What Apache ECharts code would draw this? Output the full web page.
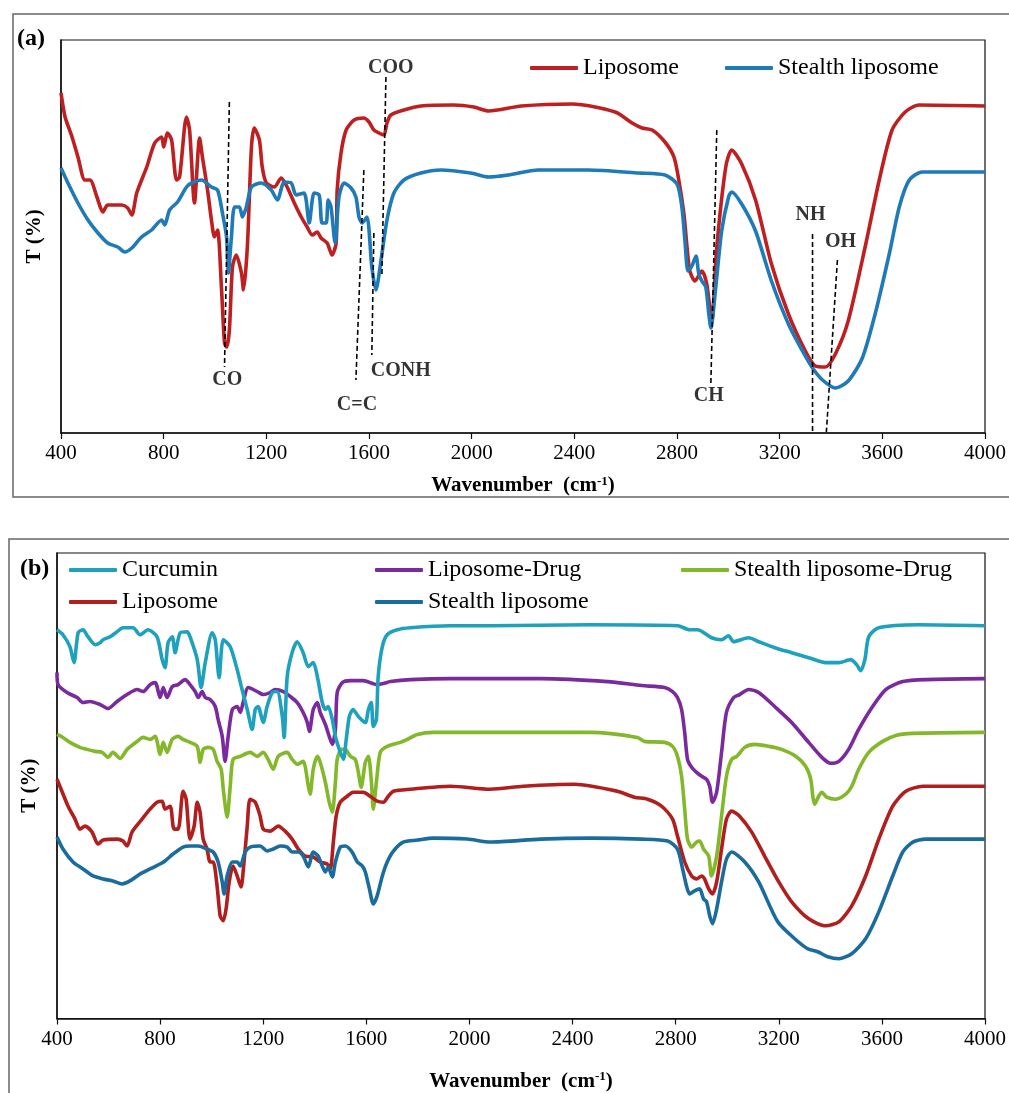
<!DOCTYPE html>
<html><head><meta charset="utf-8">
<script src="https://cdn.jsdelivr.net/npm/echarts@6/dist/echarts.min.js"></script>
<style>html,body{margin:0;padding:0;background:#fff}#chart{width:1009px;height:1093px}</style>
</head><body><div id="chart"></div>
<script>
// ---------------- DATA (wavenumber cm-1, transmittance in arbitrary units) ----------------
const xTicks = {min: 400, max: 4000, step: 400};

// Panel (a)
const a_liposome = [[400,340],[416,316],[443,296],[466,276],[493,253],[513,253],[540,236],[563,221],[582,228],[637,228],[660,225],[676,218],[695,240],[734,266],[765,290],[792,296],[800,286],[815,300],[831,293],[850,253],[862,256],[889,316],[901,303],[920,230],[940,295],[951,276],[971,243],[986,213],[998,196],[1010,203],[1025,146],[1037,90],[1045,86],[1056,103],[1068,166],[1083,178],[1103,160],[1111,143],[1126,186],[1142,286],[1153,305],[1173,293],[1184,266],[1200,250],[1231,246],[1258,255],[1281,246],[1309,230],[1336,216],[1359,206],[1379,198],[1398,201],[1413,195],[1437,190],[1456,178],[1472,190],[1476,243],[1491,280],[1511,303],[1542,313],[1580,315],[1600,311],[1619,303],[1639,300],[1658,298],[1670,310],[1685,318],[1736,323],[1802,327],[1930,328],[2008,326],[2066,322],[2194,327],[2392,329],[2559,321],[2625,310],[2664,305],[2703,303],[2753,291],[2788,276],[2807,253],[2827,219],[2839,186],[2850,162],[2870,152],[2897,162],[2916,149],[2935,112],[2955,186],[2990,266],[3013,283],[3052,269],[3106,233],[3168,169],[3234,119],[3300,82],[3339,67],[3378,66],[3417,79],[3467,112],[3533,186],[3588,253],[3638,303],[3689,321],[3743,328],[4000,327]];

const a_stealth = [[400,265],[427,250],[466,230],[505,213],[544,200],[582,190],[621,186],[648,181],[676,185],[714,196],[753,203],[792,213],[804,208],[823,223],[854,231],[889,246],[909,250],[948,253],[986,246],[1010,243],[1029,220],[1045,196],[1052,160],[1064,196],[1076,226],[1095,226],[1107,216],[1122,226],[1142,246],[1180,250],[1219,243],[1243,233],[1270,251],[1297,250],[1316,238],[1347,240],[1367,210],[1386,240],[1406,238],[1417,210],[1433,210],[1441,233],[1452,226],[1468,190],[1483,236],[1503,250],[1530,245],[1549,236],[1561,216],[1573,210],[1592,216],[1611,166],[1627,143],[1647,173],[1670,213],[1697,240],[1736,253],[1802,260],[1880,263],[1996,260],[2066,256],[2143,258],[2260,263],[2454,263],[2652,260],[2753,258],[2800,249],[2819,226],[2831,192],[2843,162],[2858,167],[2874,177],[2885,159],[2897,152],[2912,146],[2924,119],[2932,105],[2951,146],[2974,202],[3001,236],[3013,241],[3052,229],[3106,202],[3168,152],[3234,109],[3289,82],[3328,65],[3367,53],[3417,45],[3467,52],[3522,75],[3572,119],[3627,179],[3666,226],[3705,253],[3755,261],[4000,261]];

// band assignments in panel (a): dashed guide from -> to, label position
const a_bands = [
  {name:'CO',   from:[1056,331], to:[1037,66], at:[1048,53]},
  {name:'C=C',  from:[1580,263], to:[1549,53], at:[1553,28]},
  {name:'CONH', from:[1619,200], to:[1611,78], at:[1724,62]},
  {name:'COO',  from:[1666,356], to:[1650,156], at:[1685,365]},
  {name:'CH',   from:[2955,303], to:[2932,50], at:[2924,37]},
  {name:'NH',   from:[3328,199], to:[3328,1],  at:[3320,218]},
  {name:'OH',   from:[3425,173], to:[3382,1],  at:[3437,191]}
];

// Panel (b)
const b_curcumin = [[400,390],[423,385],[450,373],[466,357],[482,387],[501,390],[520,383],[548,375],[567,377],[579,380],[606,383],[633,388],[656,392],[695,392],[722,385],[753,390],[788,383],[808,360],[819,352],[831,377],[847,383],[858,367],[878,387],[905,388],[916,383],[944,360],[959,332],[975,357],[1002,387],[1014,380],[1029,342],[1045,380],[1072,373],[1099,350],[1118,330],[1138,310],[1157,290],[1169,310],[1180,313],[1200,297],[1215,313],[1235,327],[1254,328],[1274,303],[1281,282],[1293,343],[1312,367],[1332,378],[1355,367],[1375,353],[1394,357],[1410,343],[1429,317],[1441,310],[1452,313],[1468,300],[1480,283],[1495,270],[1511,260],[1522,280],[1534,303],[1549,310],[1569,303],[1596,297],[1608,310],[1619,317],[1627,293],[1639,300],[1646,343],[1662,373],[1681,385],[1720,390],[1771,392],[1926,394],[2081,394],[2470,395],[2808,394],[2854,390],[2885,390],[2939,382],[2978,380],[3005,384],[3025,378],[3083,382],[3122,378],[3184,372],[3250,367],[3316,362],[3382,357],[3433,357],[3479,360],[3502,355],[3518,349],[3534,360],[3549,383],[3588,392],[3743,395],[4000,394]];

const b_liposomeDrug = [[400,347],[404,335],[439,327],[478,322],[501,317],[528,318],[567,315],[598,311],[633,318],[672,325],[711,330],[734,328],[761,335],[781,337],[800,322],[812,332],[827,322],[847,333],[870,335],[897,340],[916,335],[936,328],[948,322],[963,328],[975,322],[994,320],[1014,313],[1025,300],[1041,283],[1052,258],[1064,283],[1080,310],[1099,313],[1111,307],[1122,317],[1142,332],[1177,328],[1200,325],[1227,327],[1246,330],[1278,328],[1305,323],[1332,317],[1355,307],[1371,297],[1379,288],[1394,310],[1410,317],[1421,307],[1441,295],[1456,283],[1468,275],[1480,290],[1487,327],[1507,337],[1538,339],[1588,339],[1642,335],[1666,336],[1693,338],[1771,340],[1926,341],[2081,341],[2276,341],[2536,338],[2668,334],[2757,332],[2788,328],[2807,322],[2823,310],[2835,287],[2846,260],[2862,252],[2881,247],[2901,243],[2920,240],[2932,233],[2943,217],[2959,227],[2978,267],[2997,307],[3025,322],[3048,325],[3083,330],[3122,327],[3184,313],[3250,297],[3316,277],[3367,262],[3402,256],[3433,258],[3471,270],[3510,290],[3564,313],[3615,330],[3681,338],[3770,340],[4000,341]];

const b_stealthDrug = [[400,285],[423,282],[450,277],[489,272],[516,270],[548,268],[575,267],[598,262],[617,267],[645,261],[672,270],[711,278],[734,282],[761,280],[781,283],[800,265],[812,277],[827,267],[847,280],[870,283],[889,280],[916,277],[944,273],[955,257],[967,270],[986,272],[1006,270],[1021,258],[1037,250],[1045,230],[1060,202],[1072,233],[1083,260],[1111,263],[1149,267],[1177,263],[1200,267],[1219,260],[1239,250],[1258,263],[1293,267],[1312,260],[1332,255],[1355,258],[1375,233],[1382,225],[1394,250],[1410,263],[1421,257],[1441,237],[1456,217],[1468,207],[1480,237],[1487,260],[1503,270],[1518,270],[1538,263],[1557,260],[1569,247],[1580,232],[1596,257],[1608,263],[1619,240],[1627,210],[1639,237],[1654,267],[1681,273],[1732,277],[1759,280],[1798,285],[1860,287],[2081,287],[2470,287],[2652,282],[2679,278],[2757,277],[2788,273],[2807,263],[2823,243],[2835,210],[2846,180],[2862,172],[2881,177],[2893,178],[2908,170],[2928,163],[2939,143],[2959,163],[2978,203],[2997,243],[3017,260],[3037,263],[3068,272],[3106,275],[3161,273],[3211,270],[3266,263],[3304,253],[3324,240],[3332,223],[3339,215],[3355,223],[3367,227],[3386,222],[3421,220],[3460,225],[3483,233],[3510,250],[3549,267],[3603,278],[3654,284],[3720,286],[4000,287]];

const b_liposome = [[400,240],[419,228],[443,213],[470,200],[489,190],[509,193],[536,187],[559,175],[579,179],[633,180],[656,178],[672,173],[691,187],[730,200],[761,210],[788,217],[808,218],[819,210],[839,213],[854,190],[870,190],[889,228],[901,220],[916,180],[932,193],[944,217],[955,207],[967,180],[982,170],[994,157],[1006,157],[1021,133],[1033,103],[1045,98],[1056,110],[1068,137],[1083,153],[1099,143],[1114,132],[1122,147],[1138,193],[1149,220],[1169,217],[1188,203],[1200,190],[1227,188],[1258,193],[1285,188],[1312,180],[1336,170],[1363,163],[1394,162],[1421,157],[1448,155],[1460,150],[1472,177],[1483,203],[1499,217],[1526,223],[1549,227],[1588,227],[1615,223],[1642,218],[1666,217],[1685,223],[1705,228],[1771,230],[1926,233],[2081,230],[2209,233],[2408,235],[2574,228],[2640,222],[2691,220],[2745,213],[2788,200],[2807,183],[2835,157],[2862,143],[2881,140],[2901,143],[2912,140],[2928,130],[2943,125],[2959,137],[2978,170],[2997,200],[3017,208],[3048,203],[3095,187],[3145,163],[3200,137],[3250,117],[3316,100],[3382,93],[3433,97],[3483,113],[3537,143],[3588,180],[3642,213],[3693,228],[3759,233],[4000,233]];

const b_stealth = [[400,182],[423,170],[462,157],[501,150],[540,143],[579,140],[617,138],[652,135],[683,138],[722,145],[761,150],[800,155],[819,158],[850,165],[889,172],[916,173],[948,173],[982,170],[1006,167],[1025,157],[1041,137],[1048,125],[1060,143],[1080,157],[1099,157],[1111,153],[1130,167],[1149,172],[1188,173],[1215,168],[1239,170],[1266,173],[1293,172],[1312,167],[1336,167],[1355,163],[1375,152],[1394,167],[1413,163],[1429,153],[1441,147],[1452,152],[1468,142],[1480,157],[1499,172],[1518,173],[1545,167],[1565,157],[1584,153],[1596,147],[1612,130],[1627,115],[1642,123],[1662,143],[1681,157],[1705,168],[1743,177],[1798,179],[1860,181],[1992,180],[2081,177],[2276,180],[2470,181],[2668,180],[2769,178],[2807,170],[2827,150],[2842,133],[2854,125],[2873,128],[2893,130],[2908,120],[2920,117],[2932,103],[2943,95],[2959,110],[2978,137],[2997,160],[3017,167],[3068,157],[3122,137],[3196,97],[3262,80],[3312,70],[3351,67],[3390,62],[3433,60],[3483,65],[3537,80],[3588,107],[3642,143],[3681,167],[3720,177],[3770,180],[4000,180]];

// ---------------- CHART ----------------
const FONT = '"Liberation Serif", "Times New Roman", serif';
const chart = echarts.init(document.getElementById('chart'), null, {renderer: 'canvas'});

function xAxisFor(gi, gap) {
  return {
    type: 'value', gridIndex: gi, min: xTicks.min, max: xTicks.max, interval: xTicks.step,
    axisLine: {show: true, lineStyle: {color: '#111', width: 1.5}},
    axisTick: {show: true, length: 6, lineStyle: {color: '#111', width: 1.2}},
    axisLabel: {color: '#000', fontSize: 21, fontFamily: FONT, margin: 10, formatter: v => String(v)},
    splitLine: {show: false},
    name: '{t|Wavenumber  (cm}{s|-1}{t|)}',
    nameLocation: 'middle', nameGap: gap,
    nameTextStyle: {rich: {
      t: {fontFamily: FONT, fontWeight: 'bold', fontSize: 21, color: '#000'},
      s: {fontFamily: FONT, fontWeight: 'bold', fontSize: 13, color: '#000', padding: [0, 0, 9, 0]}
    }}
  };
}
function yAxisFor(gi, max, gap) {
  return {
    type: 'value', gridIndex: gi, min: 0, max: max,
    axisLine: {show: true, lineStyle: {color: '#111', width: 1.5}},
    axisTick: {show: false}, axisLabel: {show: false}, splitLine: {show: false},
    name: 'T (%)', nameLocation: 'middle', nameRotate: 90, nameGap: gap,
    nameTextStyle: {fontFamily: FONT, fontWeight: 'bold', fontSize: 21, color: '#000'}
  };
}
function spectrum(name, data, color, gi) {
  return {
    name: name, type: 'line', data: data, xAxisIndex: gi, yAxisIndex: gi,
    symbol: 'none', showSymbol: false, smooth: 0.25,
    color: color, lineStyle: {color: color, width: 3.6, join: 'round'}, itemStyle: {color: color},
    animation: false
  };
}

const series = [
  spectrum('Liposome', a_liposome, '#BE2022', 0),
  spectrum('Stealth liposome', a_stealth, '#1F7AB8', 0),
  spectrum('Liposome-Drug', b_liposomeDrug, '#7A2A9C', 1),
  spectrum('Stealth liposome-Drug', b_stealthDrug, '#82B82A', 1),
  spectrum('Liposome ', b_liposome, '#B01E1E', 1),
  spectrum('Stealth liposome ', b_stealth, '#1A6C9E', 1),
  spectrum('Curcumin', b_curcumin, '#1DA1BC', 1)
];
a_bands.forEach(b => series.push({
  type: 'line', xAxisIndex: 0, yAxisIndex: 0, data: [b.from, b.to],
  symbol: 'none', silent: true, animation: false, z: 5,
  lineStyle: {color: '#000', width: 1.6, type: [5, 3]}
}));
series.push({
  type: 'scatter', xAxisIndex: 0, yAxisIndex: 0, silent: true, animation: false, z: 6,
  symbolSize: 1, itemStyle: {color: 'rgba(0,0,0,0)'},
  data: a_bands.map(b => [b.at[0], b.at[1], b.name]),
  label: {show: true, position: 'inside', formatter: p => p.value[2],
          fontFamily: FONT, fontWeight: 'bold', fontSize: 20, color: '#000'}
});

const legendText = {fontFamily: FONT, fontSize: 24, color: '#000'};
const option = {
  backgroundColor: '#fff',
  animation: false,
  grid: [
    {left: 61, top: 40, width: 926, height: 393, show: true, borderColor: '#111', borderWidth: 1.2},
    {left: 57, top: 553, width: 929, height: 467, show: true, borderColor: '#111', borderWidth: 1.2}
  ],
  xAxis: [xAxisFor(0, 42), xAxisFor(1, 52)],
  yAxis: [yAxisFor(0, 393, 16), yAxisFor(1, 467, 17)],
  legend: [
    {left: 530, top: 56, padding: 0, icon: 'roundRect', itemWidth: 48, itemHeight: 4, itemGap: 46,
     data: ['Liposome', 'Stealth liposome'], textStyle: legendText, selectedMode: false},
    {left: 69, top: 558, padding: 0, orient: 'vertical', icon: 'roundRect', itemWidth: 48, itemHeight: 4, itemGap: 8,
     data: ['Curcumin', 'Liposome '], textStyle: legendText, selectedMode: false},
    {left: 375, top: 558, padding: 0, orient: 'vertical', icon: 'roundRect', itemWidth: 48, itemHeight: 4, itemGap: 8,
     data: ['Liposome-Drug', 'Stealth liposome '], textStyle: legendText, selectedMode: false},
    {left: 681, top: 558, padding: 0, icon: 'roundRect', itemWidth: 48, itemHeight: 4,
     data: ['Stealth liposome-Drug'], textStyle: legendText, selectedMode: false}
  ],
  graphic: [
    {type: 'rect', silent: true, z: -10, shape: {x: 13, y: 14, width: 1010, height: 483},
     style: {fill: 'none', stroke: '#666', lineWidth: 1.5}},
    {type: 'rect', silent: true, z: -10, shape: {x: 9, y: 539, width: 1010, height: 570},
     style: {fill: 'none', stroke: '#666', lineWidth: 1.5}},
    {type: 'text', left: 17, top: 27, style: {text: '(a)', font: 'bold 24px ' + FONT, fill: '#000'}},
    {type: 'text', left: 20, top: 557, style: {text: '(b)', font: 'bold 24px ' + FONT, fill: '#000'}}
  ],
  series: series
};
chart.setOption(option);
</script></body></html>
